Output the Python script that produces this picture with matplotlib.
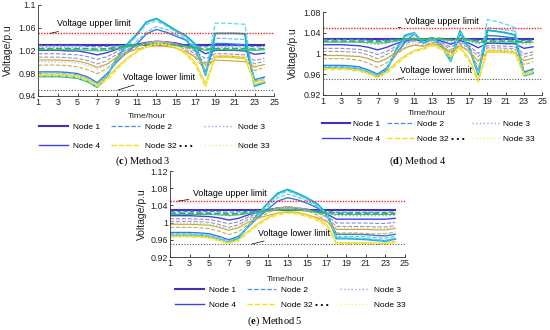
import matplotlib
matplotlib.use("Agg")
import matplotlib.pyplot as plt

plt.rcParams['font.family'] = ['Liberation Sans', 'DejaVu Sans']
plt.rcParams['mathtext.fontset'] = 'custom'
plt.rcParams['mathtext.rm'] = 'Liberation Serif'
plt.rcParams['mathtext.bf'] = 'Liberation Serif:bold'

hours = list(range(1, 25))
x_ticks = [1, 3, 5, 7, 9, 11, 13, 15, 17, 19, 21, 23, 25]
upper_limit = 1.05
lower_limit = 0.95

# ---- Method 3 ----
c_n1 = [1.030, 1.030, 1.030, 1.030, 1.030, 1.030, 1.030, 1.030, 1.030, 1.030, 1.030, 1.030,
        1.030, 1.030, 1.030, 1.030, 1.030, 1.030, 1.030, 1.030, 1.030, 1.030, 1.030, 1.030]
c_n2 = [1.028, 1.028, 1.028, 1.028, 1.028, 1.027, 1.026, 1.027, 1.028, 1.029, 1.030, 1.031,
        1.031, 1.031, 1.030, 1.029, 1.028, 1.026, 1.028, 1.028, 1.028, 1.028, 1.026, 1.027]
c_n3 = [1.025, 1.025, 1.025, 1.025, 1.025, 1.023, 1.021, 1.023, 1.026, 1.028, 1.030, 1.032,
        1.033, 1.032, 1.031, 1.029, 1.026, 1.021, 1.025, 1.025, 1.025, 1.024, 1.021, 1.022]
c_n4 = [1.020, 1.020, 1.020, 1.019, 1.019, 1.016, 1.012, 1.016, 1.022, 1.027, 1.031, 1.034,
        1.036, 1.035, 1.033, 1.029, 1.024, 1.014, 1.020, 1.020, 1.020, 1.019, 1.013, 1.015]
c_n6 = [1.014, 1.014, 1.014, 1.013, 1.012, 1.009, 1.004, 1.009, 1.018, 1.025, 1.030, 1.034,
        1.036, 1.035, 1.032, 1.027, 1.018, 1.005, 1.014, 1.014, 1.013, 1.012, 1.002, 1.006]
c_n8 = [1.008, 1.008, 1.008, 1.007, 1.006, 1.002, 0.996, 1.002, 1.013, 1.021, 1.028, 1.033,
        1.036, 1.035, 1.031, 1.025, 1.013, 0.998, 1.010, 1.010, 1.009, 1.008, 0.996, 1.001]
c_n10 = [1.000, 1.000, 1.000, 0.999, 0.998, 0.993, 0.987, 0.994, 1.008, 1.018, 1.026, 1.032,
         1.036, 1.034, 1.030, 1.023, 1.010, 0.992, 1.009, 1.009, 1.008, 1.007, 0.990, 0.996]
c_n12 = [0.982, 0.982, 0.982, 0.981, 0.979, 0.973, 0.963, 0.979, 1.000, 1.016, 1.031, 1.049,
         1.057, 1.052, 1.045, 1.038, 1.020, 0.982, 1.032, 1.032, 1.031, 1.030, 0.968, 0.973]
c_n14 = [0.980, 0.980, 0.980, 0.979, 0.977, 0.971, 0.961, 0.977, 1.002, 1.020, 1.036, 1.052,
         1.062, 1.057, 1.048, 1.040, 1.022, 0.980, 1.041, 1.041, 1.040, 1.039, 0.966, 0.971]
c_n17 = [0.974, 0.974, 0.974, 0.973, 0.971, 0.965, 0.955, 0.975, 1.006, 1.030, 1.048, 1.070,
         1.076, 1.066, 1.055, 1.046, 1.030, 0.976, 1.050, 1.050, 1.050, 1.049, 0.957, 0.963]
c_n18 = [0.976, 0.976, 0.976, 0.975, 0.973, 0.967, 0.957, 0.976, 1.004, 1.026, 1.045, 1.066,
         1.072, 1.063, 1.052, 1.043, 1.026, 0.978, 1.068, 1.068, 1.067, 1.066, 0.959, 0.965]
c_n20 = [1.023, 1.023, 1.023, 1.023, 1.023, 1.023, 1.022, 1.023, 1.025, 1.028, 1.030, 1.031,
         1.032, 1.031, 1.030, 1.028, 1.025, 1.022, 1.023, 1.023, 1.023, 1.023, 1.022, 1.023]
c_n21 = [1.021, 1.021, 1.021, 1.021, 1.021, 1.020, 1.019, 1.020, 1.023, 1.026, 1.028, 1.030,
         1.031, 1.030, 1.028, 1.026, 1.023, 1.020, 1.021, 1.021, 1.021, 1.021, 1.020, 1.021]
c_n26 = [0.994, 0.994, 0.994, 0.993, 0.991, 0.986, 0.979, 0.988, 1.003, 1.015, 1.025, 1.032,
         1.036, 1.034, 1.029, 1.021, 1.006, 0.985, 1.008, 1.008, 1.007, 1.005, 0.984, 0.990]
c_n28 = [1.003, 1.003, 1.003, 1.002, 1.001, 0.997, 0.990, 0.996, 1.008, 1.016, 1.022, 1.026,
         1.028, 1.027, 1.024, 1.018, 1.008, 0.995, 1.003, 1.002, 1.001, 1.000, 0.991, 0.995]
c_n30 = [0.978, 0.978, 0.978, 0.977, 0.975, 0.969, 0.960, 0.972, 0.990, 1.006, 1.018, 1.027,
         1.031, 1.030, 1.025, 1.016, 0.998, 0.962, 1.008, 1.008, 1.007, 1.006, 0.964, 0.968]
c_n32 = [0.975, 0.975, 0.975, 0.974, 0.972, 0.966, 0.956, 0.968, 0.987, 1.004, 1.017, 1.026,
         1.030, 1.029, 1.024, 1.014, 0.994, 0.955, 1.010, 1.010, 1.009, 1.008, 0.960, 0.965]
c_n33 = [0.977, 0.977, 0.977, 0.976, 0.974, 0.968, 0.958, 0.970, 0.989, 1.005, 1.018, 1.027,
         1.032, 1.031, 1.026, 1.016, 0.996, 0.958, 1.012, 1.012, 1.011, 1.010, 0.962, 0.966]

# ---- Method 4 ----
d_n1 = [1.029, 1.029, 1.029, 1.029, 1.029, 1.029, 1.029, 1.029, 1.029, 1.029, 1.029, 1.029,
        1.029, 1.029, 1.029, 1.029, 1.029, 1.029, 1.029, 1.029, 1.029, 1.029, 1.029, 1.029]
d_n2 = [1.027, 1.027, 1.027, 1.027, 1.027, 1.026, 1.025, 1.026, 1.027, 1.028, 1.029, 1.028,
        1.029, 1.028, 1.026, 1.028, 1.027, 1.025, 1.028, 1.028, 1.028, 1.028, 1.025, 1.026]
d_n3 = [1.023, 1.023, 1.023, 1.023, 1.022, 1.020, 1.017, 1.020, 1.024, 1.027, 1.028, 1.026,
        1.028, 1.026, 1.022, 1.027, 1.024, 1.018, 1.025, 1.025, 1.024, 1.024, 1.018, 1.020]
d_n4 = [1.017, 1.017, 1.017, 1.016, 1.015, 1.012, 1.007, 1.012, 1.019, 1.025, 1.027, 1.024,
        1.027, 1.024, 1.018, 1.025, 1.020, 1.011, 1.020, 1.020, 1.019, 1.019, 1.010, 1.013]
d_n6 = [1.010, 1.010, 1.010, 1.009, 1.008, 1.004, 0.998, 1.004, 1.014, 1.022, 1.026, 1.022,
        1.027, 1.022, 1.012, 1.023, 1.015, 1.000, 1.015, 1.015, 1.014, 1.013, 0.999, 1.003]
d_n8 = [1.004, 1.004, 1.004, 1.003, 1.002, 0.997, 0.990, 0.998, 1.010, 1.019, 1.024, 1.020,
        1.026, 1.020, 1.007, 1.021, 1.011, 0.994, 1.011, 1.011, 1.010, 1.009, 0.993, 0.998]
d_n10 = [0.997, 0.997, 0.997, 0.996, 0.995, 0.990, 0.982, 0.990, 1.004, 1.015, 1.021, 1.018,
         1.024, 1.018, 1.004, 1.020, 1.007, 0.985, 1.009, 1.009, 1.008, 1.007, 0.986, 0.991]
d_n12 = [0.977, 0.977, 0.977, 0.976, 0.974, 0.968, 0.960, 0.972, 0.998, 1.022, 1.038, 1.022,
         1.030, 1.016, 0.992, 1.038, 1.010, 0.964, 1.035, 1.034, 1.032, 1.030, 0.964, 0.970]
d_n14 = [0.975, 0.975, 0.975, 0.974, 0.972, 0.966, 0.958, 0.970, 0.999, 1.026, 1.038, 1.021,
         1.030, 1.015, 0.989, 1.040, 1.011, 0.962, 1.050, 1.048, 1.046, 1.043, 0.962, 0.968]
d_n17 = [0.972, 0.972, 0.972, 0.971, 0.969, 0.963, 0.955, 0.968, 1.006, 1.035, 1.040, 1.020,
         1.029, 1.013, 0.985, 1.044, 1.012, 0.959, 1.045, 1.043, 1.040, 1.036, 0.957, 0.962]
d_n18 = [0.973, 0.973, 0.973, 0.972, 0.970, 0.964, 0.956, 0.969, 1.004, 1.032, 1.039, 1.021,
         1.030, 1.014, 0.986, 1.042, 1.011, 0.960, 1.066, 1.062, 1.057, 1.050, 0.958, 0.963]
d_n20 = [1.024, 1.024, 1.024, 1.024, 1.024, 1.024, 1.023, 1.024, 1.026, 1.028, 1.029, 1.028,
         1.030, 1.029, 1.027, 1.029, 1.027, 1.024, 1.024, 1.024, 1.024, 1.024, 1.023, 1.024]
d_n21 = [1.022, 1.022, 1.022, 1.022, 1.022, 1.021, 1.020, 1.021, 1.024, 1.027, 1.028, 1.027,
         1.029, 1.027, 1.025, 1.028, 1.025, 1.021, 1.022, 1.022, 1.022, 1.022, 1.021, 1.022]
d_n26 = [0.990, 0.990, 0.990, 0.989, 0.987, 0.981, 0.973, 0.982, 0.998, 1.010, 1.017, 1.015,
         1.022, 1.015, 1.000, 1.018, 1.003, 0.975, 1.006, 1.006, 1.005, 1.004, 0.978, 0.984]
d_n28 = [0.996, 0.996, 0.996, 0.995, 0.994, 0.990, 0.983, 0.990, 1.002, 1.011, 1.016, 1.014,
         1.019, 1.014, 1.003, 1.015, 1.004, 0.985, 1.003, 1.003, 1.002, 1.001, 0.986, 0.991]
d_n30 = [0.971, 0.971, 0.971, 0.970, 0.968, 0.962, 0.955, 0.965, 0.982, 0.996, 1.006, 1.010,
         1.017, 1.010, 0.996, 1.013, 0.990, 0.950, 1.006, 1.005, 1.004, 1.003, 0.960, 0.966]
d_n32 = [0.969, 0.969, 0.969, 0.968, 0.966, 0.960, 0.953, 0.962, 0.978, 0.993, 1.004, 1.008,
         1.015, 1.008, 0.993, 1.010, 0.986, 0.945, 1.004, 1.003, 1.002, 1.001, 0.958, 0.964]
d_n33 = [0.970, 0.970, 0.970, 0.969, 0.967, 0.961, 0.954, 0.964, 0.980, 0.995, 1.005, 1.009,
         1.016, 1.009, 0.995, 1.012, 0.988, 0.947, 1.005, 1.004, 1.003, 1.002, 0.959, 0.965]

# ---- Method 5 ----
e_n1 = [1.029, 1.029, 1.029, 1.029, 1.029, 1.029, 1.029, 1.029, 1.029, 1.029, 1.029, 1.029,
        1.029, 1.029, 1.029, 1.029, 1.029, 1.029, 1.029, 1.029, 1.029, 1.029, 1.029, 1.029]
e_n2 = [1.026, 1.026, 1.026, 1.026, 1.026, 1.025, 1.024, 1.025, 1.026, 1.027, 1.028, 1.029,
        1.030, 1.029, 1.028, 1.027, 1.026, 1.024, 1.024, 1.024, 1.024, 1.024, 1.024, 1.025]
e_n3 = [1.022, 1.022, 1.022, 1.022, 1.021, 1.019, 1.016, 1.019, 1.023, 1.027, 1.030, 1.032,
        1.033, 1.032, 1.030, 1.027, 1.023, 1.016, 1.016, 1.016, 1.016, 1.016, 1.016, 1.017]
e_n4 = [1.016, 1.016, 1.016, 1.015, 1.014, 1.011, 1.006, 1.010, 1.018, 1.025, 1.030, 1.034,
        1.036, 1.034, 1.031, 1.026, 1.020, 1.008, 1.008, 1.008, 1.008, 1.008, 1.008, 1.010]
e_n6 = [1.009, 1.009, 1.009, 1.008, 1.007, 1.003, 0.997, 1.002, 1.013, 1.022, 1.029, 1.034,
        1.036, 1.034, 1.030, 1.024, 1.016, 0.999, 0.999, 0.999, 0.999, 0.998, 0.998, 1.001]
e_n8 = [1.003, 1.003, 1.003, 1.002, 1.001, 0.996, 0.989, 0.995, 1.008, 1.019, 1.028, 1.034,
        1.037, 1.035, 1.030, 1.023, 1.013, 0.991, 0.991, 0.991, 0.991, 0.990, 0.990, 0.993]
e_n10 = [0.999, 0.999, 0.999, 0.998, 0.997, 0.992, 0.985, 0.991, 1.005, 1.017, 1.027, 1.033,
         1.036, 1.035, 1.029, 1.022, 1.011, 0.987, 0.987, 0.987, 0.987, 0.986, 0.986, 0.989]
e_n12 = [0.977, 0.977, 0.977, 0.976, 0.974, 0.968, 0.960, 0.968, 0.990, 1.012, 1.032, 1.050,
         1.058, 1.053, 1.045, 1.035, 1.018, 0.973, 0.973, 0.973, 0.972, 0.970, 0.969, 0.973]
e_n14 = [0.974, 0.974, 0.974, 0.973, 0.971, 0.965, 0.957, 0.966, 0.990, 1.015, 1.038, 1.058,
         1.066, 1.060, 1.050, 1.038, 1.020, 0.968, 0.968, 0.968, 0.967, 0.965, 0.964, 0.968]
e_n17 = [0.970, 0.970, 0.970, 0.969, 0.967, 0.961, 0.954, 0.964, 0.992, 1.020, 1.045, 1.068,
         1.077, 1.068, 1.057, 1.044, 1.022, 0.963, 0.963, 0.962, 0.961, 0.959, 0.957, 0.962]
e_n18 = [0.972, 0.972, 0.972, 0.971, 0.969, 0.963, 0.955, 0.965, 0.991, 1.018, 1.042, 1.064,
         1.073, 1.065, 1.054, 1.041, 1.021, 0.965, 0.965, 0.964, 0.963, 0.961, 0.959, 0.964]
e_n20 = [1.022, 1.022, 1.022, 1.022, 1.022, 1.021, 1.020, 1.021, 1.023, 1.026, 1.028, 1.030,
         1.031, 1.030, 1.028, 1.026, 1.024, 1.022, 1.022, 1.022, 1.022, 1.022, 1.022, 1.022]
e_n21 = [1.019, 1.019, 1.019, 1.019, 1.019, 1.018, 1.017, 1.018, 1.021, 1.024, 1.027, 1.029,
         1.030, 1.029, 1.027, 1.024, 1.021, 1.019, 1.019, 1.019, 1.019, 1.019, 1.019, 1.019]
e_n26 = [0.989, 0.989, 0.989, 0.988, 0.986, 0.980, 0.972, 0.979, 0.996, 1.011, 1.023, 1.032,
         1.036, 1.034, 1.027, 1.018, 1.004, 0.976, 0.976, 0.976, 0.975, 0.974, 0.974, 0.978]
e_n28 = [0.996, 0.996, 0.996, 0.995, 0.994, 0.989, 0.982, 0.988, 1.001, 1.010, 1.017, 1.022,
         1.024, 1.023, 1.018, 1.012, 1.003, 0.984, 0.984, 0.984, 0.984, 0.983, 0.983, 0.986]
e_n30 = [0.969, 0.969, 0.969, 0.968, 0.966, 0.960, 0.953, 0.960, 0.980, 0.998, 1.012, 1.022,
         1.026, 1.024, 1.018, 1.010, 0.996, 0.953, 0.953, 0.953, 0.953, 0.952, 0.952, 0.956]
e_n32 = [0.967, 0.967, 0.967, 0.966, 0.964, 0.958, 0.952, 0.958, 0.977, 0.995, 1.009, 1.018,
         1.022, 1.020, 1.014, 1.006, 0.992, 0.951, 0.951, 0.951, 0.951, 0.950, 0.950, 0.954]
e_n33 = [0.968, 0.968, 0.968, 0.967, 0.965, 0.959, 0.953, 0.959, 0.978, 0.996, 1.010, 1.019,
         1.023, 1.021, 1.015, 1.007, 0.994, 0.952, 0.952, 0.952, 0.952, 0.951, 0.951, 0.955]

# drawing order, colours and line styles
node_keys = ['n1', 'n2', 'n3', 'n4', 'n6', 'n8', 'n10', 'n12', 'n14', 'n17', 'n18',
             'n20', 'n21', 'n26', 'n28', 'n30', 'n32', 'n33']
node_style = {
    'n1': ('#4a2db5', '-', 1.5),
    'n2': ('#4a90e2', '--', 0.9),
    'n3': ('#a59cf0', ':', 1.0),
    'n4': ('#3f3fe8', '-', 1.0),
    'n6': ('#8f86d6', '--', 0.8),
    'n8': ('#9c9aa8', '--', 0.8),
    'n10': ('#b8c0dc', ':', 0.9),
    'n12': ('#2b7fe0', '-', 1.0),
    'n14': ('#6ab4f2', '--', 0.8),
    'n17': ('#1cb3cc', '-', 1.4),
    'n18': ('#5ad8e6', '--', 0.9),
    'n20': ('#20b070', '--', 1.2),
    'n21': ('#40c060', '-', 0.8),
    'n26': ('#c4aa58', '--', 0.8),
    'n28': ('#c8a83a', '-', 0.8),
    'n30': ('#f2c820', '-', 0.8),
    'n32': ('#f5e000', '--', 1.0),
    'n33': ('#f6f07a', ':', 1.0),
}
legend_names = {'n1': 'Node 1', 'n2': 'Node 2', 'n3': 'Node 3', 'n4': 'Node 4',
                'n32': 'Node 32 \u2022 \u2022 \u2022', 'n33': 'Node 33'}

panels = [
    {'data': dict(n1=c_n1, n2=c_n2, n3=c_n3, n4=c_n4, n6=c_n6, n8=c_n8, n10=c_n10, n12=c_n12,
                  n14=c_n14, n17=c_n17, n18=c_n18, n20=c_n20, n21=c_n21, n26=c_n26, n28=c_n28,
                  n30=c_n30, n32=c_n32, n33=c_n33),
     'rect': [38.3, 5.0, 236.0, 90.7], 'ylim': (0.94, 1.1),
     'yticks': [0.94, 0.98, 1.02, 1.06, 1.1], 'ylabels': ['0.94', '0.98', '1.02', '1.06', '1.1'],
     'up': ((2.2, 1.05), (2.9, 1.0665)), 'low': ((9.1, 0.95), (9.6, 0.9725)),
     'ylab_x': 8.5, 'xlab': (147, 113), 'leg': (39, 123.0, 1.3, 3.5, 0.6, 1.3),
     'cap': (143, 161, 'c', 'Method 3')},
    {'data': dict(n1=d_n1, n2=d_n2, n3=d_n3, n4=d_n4, n6=d_n6, n8=d_n8, n10=d_n10, n12=d_n12,
                  n14=d_n14, n17=d_n17, n18=d_n18, n20=d_n20, n21=d_n21, n26=d_n26, n28=d_n28,
                  n30=d_n30, n32=d_n32, n33=d_n33),
     'rect': [322.7, 12.2, 219.6, 82.6], 'ylim': (0.92, 1.08),
     'yticks': [0.92, 0.96, 1.0, 1.04, 1.08], 'ylabels': ['0.92', '0.96', '1', '1.04', '1.08'],
     'up': ((9.25, 1.05), (10.0, 1.0616)), 'low': ((9.1, 0.95), (9.45, 0.968)),
     'ylab_x': 293, 'xlab': (427, 110), 'leg': (322, 120.0, 0.85, 3.3, 0.4, 0.8),
     'cap': (418, 161, 'd', 'Method 4')},
    {'data': dict(n1=e_n1, n2=e_n2, n3=e_n3, n4=e_n4, n6=e_n6, n8=e_n8, n10=e_n10, n12=e_n12,
                  n14=e_n14, n17=e_n17, n18=e_n18, n20=e_n20, n21=e_n21, n26=e_n26, n28=e_n28,
                  n30=e_n30, n32=e_n32, n33=e_n33),
     'rect': [170.0, 171.0, 235.0, 86.0], 'ylim': (0.92, 1.12),
     'yticks': [0.92, 0.96, 1.0, 1.04, 1.08, 1.12],
     'ylabels': ['0.92', '0.96', '1', '1.04', '1.08', '1.12'],
     'up': ((1.8, 1.05), (3.35, 1.068)), 'low': ((9.35, 0.95), (10.0, 0.975)),
     'ylab_x': 142, 'xlab': (286, 275.7), 'leg': (175, 286.0, 0.85, 3.5, 0.6, 1.3),
     'cap': (275, 321.5, 'e', 'Method 5')},
]

W, H = 550, 330
fig = plt.figure(figsize=(5.5, 3.3), dpi=100)

for p in panels:
    l, t, w, h = p['rect']
    ax = fig.add_axes([l / W, 1 - (t + h) / H, w / W, h / H])
    handles = {}
    for k in node_keys:
        col, ls, lw = node_style[k]
        ln, = ax.plot(hours, p['data'][k], color=col, linestyle=ls, linewidth=lw)
        handles[k] = ln
    ax.axhline(upper_limit, color='#ff2020', linestyle=(0, (1, 1)), linewidth=1.0)
    ax.axhline(lower_limit, color='#555555', linestyle=(0, (1, 1.5)), linewidth=0.8)

    ax.annotate('Voltage upper limit', xy=p['up'][0], xytext=p['up'][1], fontsize=6.4,
                va='center', ha='left',
                arrowprops=dict(arrowstyle='-', color='k', lw=0.5, shrinkA=1, shrinkB=0))
    ax.annotate('Voltage lower limit', xy=p['low'][0], xytext=p['low'][1], fontsize=6.4,
                va='center', ha='left',
                arrowprops=dict(arrowstyle='-', color='k', lw=0.5, shrinkA=1, shrinkB=0))

    ax.set_xlim(1, 25)
    ax.set_ylim(*p['ylim'])
    ax.set_xticks(x_ticks)
    ax.set_xticklabels([str(v) for v in x_ticks])
    ax.set_yticks(p['yticks'])
    ax.set_yticklabels(p['ylabels'])
    ax.tick_params(direction='in', length=2.5, width=0.6, labelsize=6.4, pad=1.5, colors='#222222')
    for s in ['top', 'right']:
        ax.spines[s].set_visible(False)
    for s in ['left', 'bottom']:
        ax.spines[s].set_linewidth(0.6)
        ax.spines[s].set_color('#333333')

    # ylabel anchor is the right edge of the rotated text
    ax.set_ylabel('Voltage/p.u', fontsize=7.5, color='#222222')
    ax.yaxis.set_label_coords((p['ylab_x'] + 4.5 - l) / w, 0.5)
    ax.set_xlabel('Time/hour', fontsize=6.1, color='#222222')
    ax.xaxis.set_label_coords((p['xlab'][0] - l) / w, (t + h - p['xlab'][1]) / h)

    lx, ly, lsp, hl, htp, csp = p['leg']
    order = ['n1', 'n4', 'n2', 'n32', 'n3', 'n33']
    ax.legend([handles[k] for k in order], [legend_names[k] for k in order], ncol=3,
              loc='upper left', bbox_to_anchor=(lx / W, 1 - ly / H), bbox_transform=fig.transFigure,
              frameon=False, fontsize=6, handlelength=hl, handletextpad=htp,
              columnspacing=csp, labelspacing=lsp, borderpad=0, borderaxespad=0)

    cx, cy, letter, name = p['cap']
    fig.text(cx / W, 1 - cy / H, r'($\mathbf{' + letter + r'}$) ' + name,
             family='Liberation Serif', fontsize=7.5, ha='center', va='center')

fig.savefig('out.png', dpi=100)
